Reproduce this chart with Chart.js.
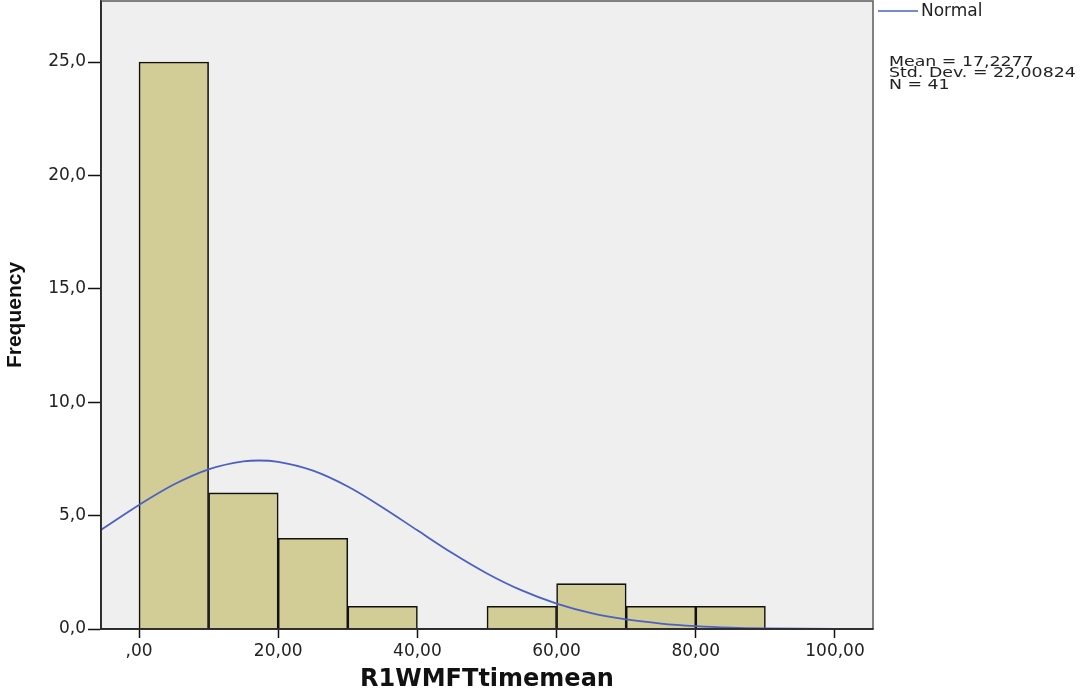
<!DOCTYPE html>
<html>
<head>
<meta charset="utf-8">
<script src="https://cdn.jsdelivr.net/npm/chart.js@4/dist/chart.umd.min.js"></script>
<style>
html,body{margin:0;padding:0;background:#fff;}
#wrap{width:1081px;height:692px;position:relative;}
</style>
</head>
<body>
<div id="wrap"><canvas id="c"></canvas></div>
<script>
// Histogram bins (centre of each 10-wide bin) and frequencies
const binCenters = [5, 15, 25, 35, 45, 55, 65, 75, 85];
const frequencies = [25, 6, 4, 1, null, 1, 2, 1, 1];

// Normal curve
const normalX = [-5.46, 0, 5, 10, 15, 17.23, 20, 25, 30, 35, 40, 45, 50, 55, 60, 65, 70, 75, 80, 85, 90, 95, 100, 105.46];
const normalY = [4.37, 5.47, 6.37, 7.04, 7.39, 7.43, 7.37, 6.98, 6.28, 5.36, 4.35, 3.35, 2.45, 1.70, 1.12, 0.70, 0.42, 0.24, 0.13, 0.065, 0.031, 0.014, 0.006, 0.002];

// Tick values and labels
const xTickValues = [0, 20, 40, 60, 80, 100];
const xTickLabels = [',00', '20,00', '40,00', '60,00', '80,00', '100,00'];
const yTickValues = [0, 5, 10, 15, 20, 25];
const yTickLabels = ['0,0', '5,0', '10,0', '15,0', '20,0', '25,0'];

// Texts
const xTitle = 'R1WMFTtimemean';
const yTitle = 'Frequency';
const legendLabel = 'Normal';
const statLines = ['Mean = 17,2277', 'Std. Dev. = 22,00824', 'N = 41'];

const barData = binCenters.map((x, i) => ({x: x, y: frequencies[i]}));
const lineData = normalX.map((x, i) => ({x: x, y: normalY[i]}));

const curveColor = '#4a60c2';

const framePlugin = {
  id: 'frame',
  beforeDraw(chart) {
    const {ctx, chartArea: a} = chart;
    ctx.save();
    ctx.fillStyle = '#efefef';
    ctx.fillRect(a.left, a.top, a.right - a.left, a.bottom - a.top);
    ctx.restore();
  },
  afterDraw(chart) {
    const {ctx, chartArea: a} = chart;
    ctx.save();
    ctx.strokeStyle = '#5a5a5a';
    ctx.lineWidth = 1.5;
    ctx.strokeRect(a.left, a.top, a.right - a.left, a.bottom - a.top);
    ctx.strokeStyle = '#222';
    ctx.beginPath();
    ctx.moveTo(a.left, a.top); ctx.lineTo(a.left, a.bottom); ctx.lineTo(a.right, a.bottom);
    ctx.stroke();
    // legend
    const lx = a.right + 5;
    ctx.strokeStyle = curveColor;
    ctx.lineWidth = 1.6;
    ctx.beginPath();
    ctx.moveTo(lx, 11); ctx.lineTo(lx + 40, 11);
    ctx.stroke();
    ctx.fillStyle = '#222';
    ctx.textBaseline = 'middle';
    ctx.textAlign = 'left';
    ctx.font = '17px "DejaVu Sans"';
    ctx.fillText(legendLabel, lx + 43, 12);
    // stats
    ctx.font = '14px "DejaVu Sans"';
    const ys = [62, 73.5, 85];
    statLines.forEach((t, i) => {
      ctx.save();
      ctx.translate(a.right + 16, ys[i]);
      ctx.scale(1.24, 1);
      ctx.fillText(t, 0, 0);
      ctx.restore();
    });
    ctx.restore();
  }
};

new Chart(document.getElementById('c'), {
  type: 'bar',
  data: {
    datasets: [
      {
        type: 'line',
        label: legendLabel,
        data: lineData,
        borderColor: curveColor,
        borderWidth: 1.8,
        pointRadius: 0,
        fill: false,
        cubicInterpolationMode: 'monotone',
        order: 0
      },
      {
        type: 'bar',
        label: 'Frequency',
        data: barData,
        backgroundColor: '#d2cd96',
        borderColor: '#111',
        borderWidth: 1.6,
        barPercentage: 1,
        categoryPercentage: 1,
        grouped: false,
        order: 1
      }
    ]
  },
  options: {
    responsive: true,
    maintainAspectRatio: false,
    devicePixelRatio: 1,
    animation: false,
    layout: {padding: {left: 0, right: 208, top: 1, bottom: 0}},
    plugins: {legend: {display: false}, tooltip: {enabled: false}},
    scales: {
      x: {
        type: 'linear',
        min: -5.46,
        max: 105.46,
        offset: false,
        afterBuildTicks: s => { s.ticks = xTickValues.map(v => ({value: v})); },
        afterFit: s => { s.height = 63; },
        grid: {offset: false, drawOnChartArea: false, drawTicks: true, tickLength: 9, tickColor: '#111', tickWidth: 1.5},
        border: {display: true, color: '#222', width: 1.5},
        ticks: {
          autoSkip: false,
          maxRotation: 0,
          padding: 3,
          color: '#222',
          font: {family: '"DejaVu Sans"', size: 17},
          callback: v => { const i = xTickValues.indexOf(v); return i >= 0 ? xTickLabels[i] : ''; }
        },
        title: {
          display: true,
          text: xTitle,
          color: '#111',
          font: {family: '"DejaVu Sans"', size: 24, weight: 'bold', lineHeight: 1},
          padding: {top: 0, bottom: 0}
        }
      },
      y: {
        type: 'linear',
        min: 0,
        max: 27.69,
        afterBuildTicks: s => { s.ticks = yTickValues.map(v => ({value: v})); },
        afterFit: s => { s.width = 101; s.paddingTop = 0; s.paddingBottom = 0; },
        grid: {offset: false, drawOnChartArea: false, drawTicks: true, tickLength: 13, tickColor: '#111', tickWidth: 1.5},
        border: {display: true, color: '#222', width: 1.5},
        ticks: {
          autoSkip: false,
          padding: 2,
          color: '#222',
          font: {family: '"DejaVu Sans"', size: 17},
          callback: v => { const i = yTickValues.indexOf(v); return i >= 0 ? yTickLabels[i] : ''; }
        },
        title: {
          display: true,
          text: yTitle,
          color: '#111',
          font: {family: '"Liberation Sans"', size: 21, weight: 'bold', lineHeight: 1.2},
          padding: {top: 3, bottom: 0}
        }
      }
    }
  },
  plugins: [framePlugin]
});
</script>
</body>
</html>
